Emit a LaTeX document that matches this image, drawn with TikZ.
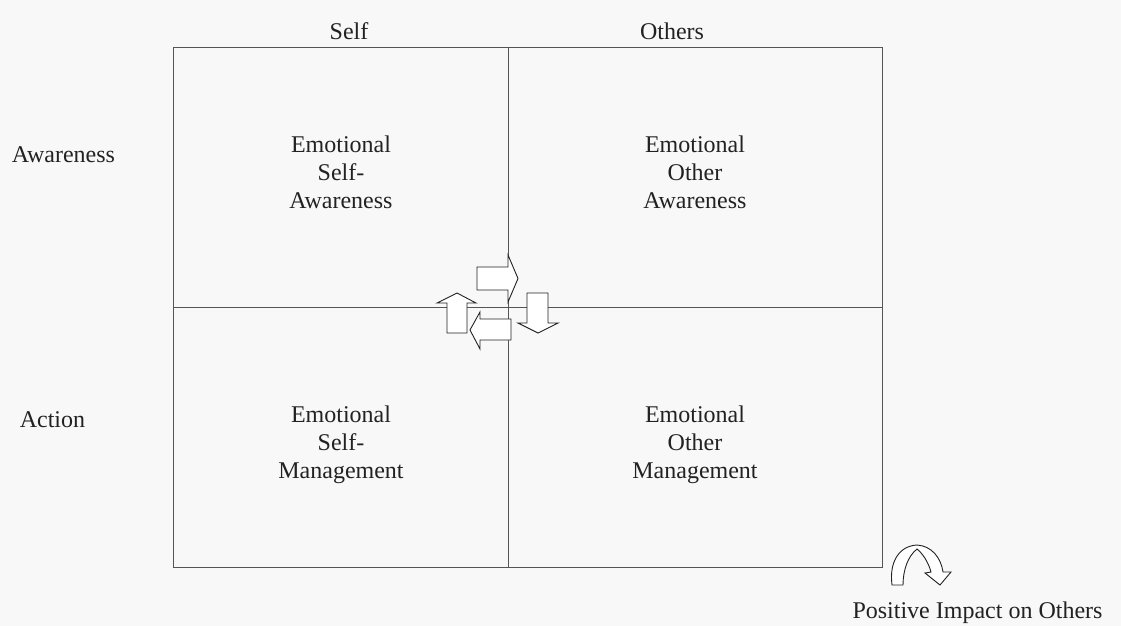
\documentclass[tikz,border=0pt]{standalone}
\usepackage{fontspec}
\setmainfont{Liberation Serif}
\definecolor{paper}{HTML}{F8F8F8}
\definecolor{ink}{HTML}{222222}
\definecolor{rule}{HTML}{555555}
\begin{document}
\begin{tikzpicture}[x=1pt,y=-1pt,
  lbl/.style={inner sep=0pt, text=ink, font=\fontsize{24}{28}\selectfont},
  cell/.style={lbl, align=center, anchor=north},
  grid/.style={draw=rule, line width=0.9pt},
  blockarrow/.style={draw=ink, fill=white, line width=0.9pt, line join=miter}]
  % canvas
  \fill[paper] (0,0) rectangle (1121,626);
  \useasboundingbox (0,0) rectangle (1121,626);

  % the 2x2 grid
  \draw[grid] (173,47) rectangle (882,567);
  \draw[grid] (508,47) -- (508,567);
  \draw[grid] (173,307) -- (882,307);

  % column and row headings
  \node[lbl, anchor=base] (self)   at (349,40)  {Self};
  \node[lbl, anchor=base] (others) at (672,40)  {Others};
  \node[lbl, anchor=base] (aware)  at (63.5,162) {Awareness};
  \node[lbl, anchor=base] (action) at (52.5,427) {Action};

  % quadrant contents
  \node[cell] (esa) at (341,135.3) {Emotional\\Self-\\Awareness};
  \node[cell] (eoa) at (695,135.3) {Emotional\\Other\\Awareness};
  \node[cell] (esm) at (341,405.3) {Emotional\\Self-\\Management};
  \node[cell] (eom) at (695,405.3) {Emotional\\Other\\Management};

  % block arrows circling the centre
  \draw[blockarrow] (477,267) -- (508,267) -- (508,255) -- (518,278.5)
    -- (508,302) -- (508,290) -- (477,290) -- cycle;
  \draw[blockarrow] (527,293) -- (548,293) -- (548,323) -- (558,323)
    -- (538,333) -- (518,323) -- (527,323) -- cycle;
  \draw[blockarrow] (511,319) -- (480,319) -- (480,312) -- (470,330)
    -- (480,349) -- (480,340) -- (511,340) -- cycle;
  \draw[blockarrow] (447,333) -- (447,303) -- (437,303) -- (457,293)
    -- (476,303) -- (467,303) -- (467,333) -- cycle;

  % curved arrow and its caption
  \draw[blockarrow] (892,585) .. controls (889,562) and (899,546) .. (917,545)
    .. controls (932,546) and (941,558) .. (943,572)
    -- (951,572) -- (940,585) -- (925,573) -- (931,572)
    .. controls (928,561) and (922,553) .. (917,549)
    .. controls (908,556) and (903,570) .. (903,585) -- cycle;
  \node[lbl, anchor=base] (impact) at (977.5,618) {Positive Impact on Others};
\end{tikzpicture}
\end{document}
